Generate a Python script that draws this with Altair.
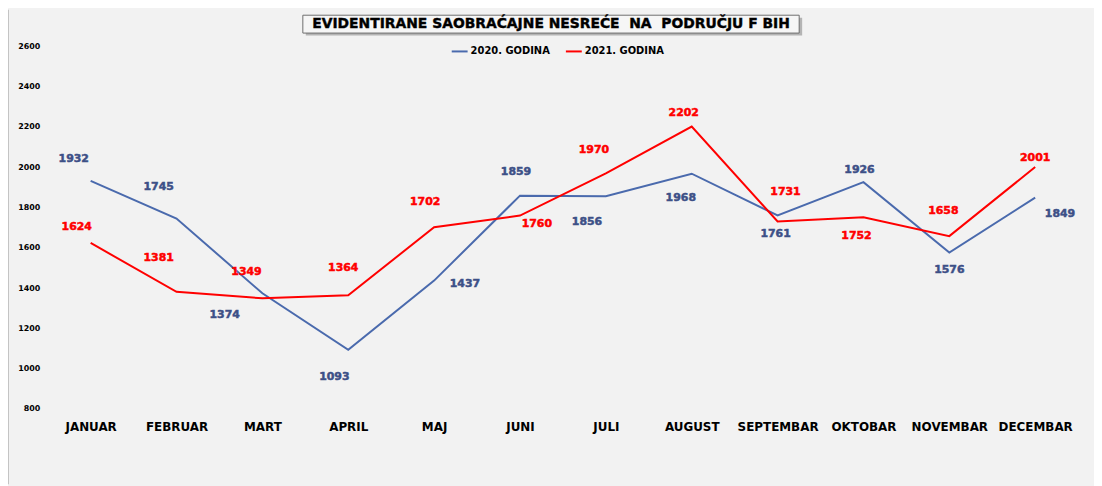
import altair as alt
import pandas as pd

months = ["JANUAR", "FEBRUAR", "MART", "APRIL", "MAJ", "JUNI", "JULI",
          "AUGUST", "SEPTEMBAR", "OKTOBAR", "NOVEMBAR", "DECEMBAR"]
series_names = ["2020. GODINA", "2021. GODINA"]
values_2020 = [1932, 1745, 1374, 1093, 1437, 1859, 1856, 1968, 1761, 1926, 1576, 1849]
values_2021 = [1624, 1381, 1349, 1364, 1702, 1760, 1970, 2202, 1731, 1752, 1658, 2001]
y_ticks = [800, 1000, 1200, 1400, 1600, 1800, 2000, 2200, 2400, 2600]
title_text = "EVIDENTIRANE SAOBRAĆAJNE NESREĆE\u00a0\u00a0NA\u00a0\u00a0PODRUČJU F BIH"

# label placement (pixel offsets), kept apart from the data
label_dx = {
    "2020. GODINA": [-17, -18, -38, -14, 31, -4, -19, -11, -2, -4, 0, 25],
    "2021. GODINA": [-14, -18, -16, -5, -9, 17, -12, -8, 8, -7, -6, 0],
}
label_dy = {
    "2020. GODINA": [-22, -32, 22, 27, 3, -24, 26, 25, 19, -12, 18, 16],
    "2021. GODINA": [-16, -34, -26, -27, -25, 9, -23, -14, -30, 19, -25, -9],
}

rows = []
for name, vals in zip(series_names, [values_2020, values_2021]):
    for i, (m, v) in enumerate(zip(months, vals)):
        rows.append({"month": m, "series": name, "value": v,
                     "dx": label_dx[name][i], "dy": label_dy[name][i]})
df = pd.DataFrame(rows)

FONT = "DejaVu Sans"
line_colors = ["#4a6aad", "#ff0000"]
label_colors = ["#3d5087", "#ff0000"]

x_enc = alt.X("month:N", sort=months,
              scale=alt.Scale(type="point", padding=0.5),
              axis=alt.Axis(title=None, labelAngle=0, ticks=False, domain=False,
                            labelPadding=13, labelFont=FONT, labelFontSize=12,
                            labelFontWeight="bold", labelColor="#000000"))
y_enc = alt.Y("value:Q",
              scale=alt.Scale(domain=[800, 2600], nice=False, zero=False),
              axis=alt.Axis(title=None, values=y_ticks, grid=False, ticks=False,
                            domain=False, labelPadding=8, labelFont=FONT, format="d",
                            labelFontSize=8, labelFontWeight="bold",
                            labelColor="#000000"))

base = alt.Chart(df)

lines = base.mark_line(strokeWidth=2).encode(
    x=x_enc, y=y_enc,
    color=alt.Color("series:N", sort=series_names,
                    scale=alt.Scale(domain=series_names, range=line_colors),
                    legend=alt.Legend(title=None, orient="none", legendX=406,
                                      legendY=-4, direction="horizontal",
                                      symbolType="stroke", symbolSize=256,
                                      symbolStrokeWidth=2, labelFont=FONT,
                                      labelFontSize=10, labelFontWeight="bold",
                                      labelColor="#000000", columnPadding=12,
                                      padding=0, labelOffset=2)),
)

labels = base.mark_text(font=FONT, fontSize=11, fontWeight="bold",
                        baseline="middle", align="center", strokeWidth=0.5,
                        dx=alt.expr("datum.dx"), dy=alt.expr("datum.dy")).encode(
    x=alt.X("month:N", sort=months), y="value:Q",
    text="value:Q",
    color=alt.Color("series:N", sort=series_names,
                    scale=alt.Scale(domain=series_names, range=label_colors),
                    legend=None),
    stroke=alt.Stroke("series:N", sort=series_names,
                      scale=alt.Scale(domain=series_names, range=label_colors),
                      legend=None),
)

one = pd.DataFrame({"k": [0]})
shadow = alt.Chart(one).mark_rect(color="#9a9a9a", opacity=0.7).encode(
    x=alt.value(260), x2=alt.value(760), y=alt.value(-29), y2=alt.value(-11))
box = alt.Chart(one).mark_rect(fill="#f6f6f6", stroke="#6e6e6e", strokeWidth=1).encode(
    x=alt.value(257), x2=alt.value(757), y=alt.value(-31.5), y2=alt.value(-13.5))
title = alt.Chart(one).mark_text(font=FONT, fontSize=14, fontWeight="bold",
                                 color="#000000", stroke="#000000", strokeWidth=0.4,
                                 align="center", baseline="middle").encode(
    x=alt.value(507), y=alt.value(-22.5), text=alt.value(title_text))
border = alt.Chart(one).mark_rule(color="#c4c4c4", strokeWidth=1).encode(
    x=alt.value(-39.5), y=alt.value(-37), y2=alt.value(441))

chart = alt.layer(border, lines, labels, shadow, box, title).resolve_scale(
    color="independent", stroke="independent"
).properties(
    width=1038, height=365,
    padding={"left": 40, "top": 37, "right": 16, "bottom": 76},
    autosize=alt.AutoSizeParams(type="none"),
    background="#f2f2f2",
).configure_view(stroke=None)

chart.save("out.html", embed_options={"renderer": "svg", "actions": False})
